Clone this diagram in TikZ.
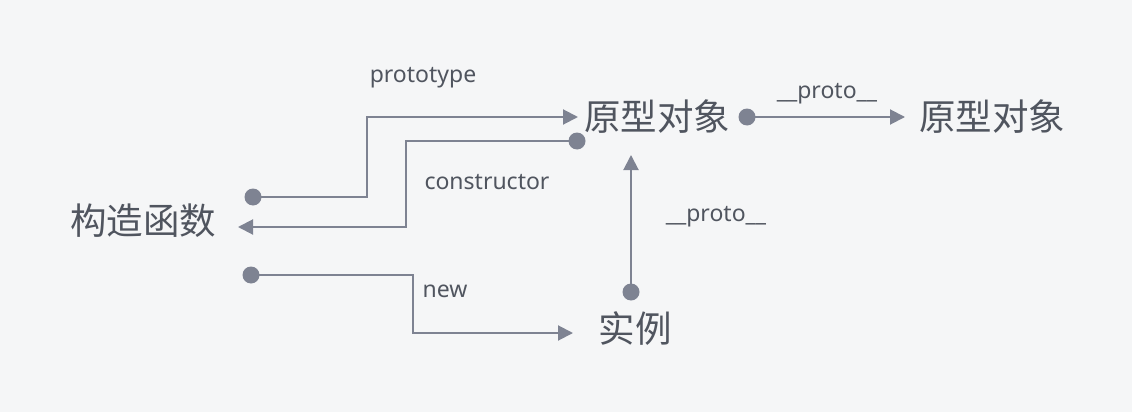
\documentclass[tikz,border=0pt]{standalone}
\usepackage{fontspec}
\newfontfamily\cjk{Noto Sans CJK SC}
\setmainfont{Noto Sans}
\usetikzlibrary{arrows.meta}
\definecolor{bg}{HTML}{F5F6F7}
\definecolor{ln}{HTML}{7E8392}
\definecolor{tx}{HTML}{50555F}
\tikzset{
  big/.style={text=tx, font=\cjk\fontsize{36.5}{40}\selectfont, inner sep=0pt},
  lbl/.style={text=tx, font=\fontsize{23}{26}\selectfont, inner sep=0pt},
  conn/.style={draw=ln, line width=2pt, -{Triangle[length=15pt,width=15pt]}},
  dotc/.style={fill=ln, draw=none},
}
\begin{document}
\begin{tikzpicture}[x=1pt,y=1pt]
\fill[bg] (0,0) rectangle (1132,-412);
\useasboundingbox (0,0) rectangle (1132,-412);

\node[big] (ctor) at (143,-221) {构造函数};
\node[big] (p1) at (657,-117) {原型对象};
\node[big] (p2) at (992,-117) {原型对象};
\node[big] (inst) at (635,-329) {实例};

\node[lbl] (lproto) at (423,-78) {prototype};
\node[lbl] (lctor) at (487,-182) {constructor};
\node[lbl] (lp2) at (827,-94) {\_\_proto\_\_};
\node[lbl] (lp1) at (716,-217) {\_\_proto\_\_};
\node[lbl] (lnew) at (445,-291) {new};

\coordinate (d1) at (253,-197);
\coordinate (t1) at (578,-117);
\coordinate (d2) at (577,-141);
\coordinate (t2) at (238,-227);
\coordinate (d3) at (251,-275);
\coordinate (t3) at (573,-333);
\coordinate (d4) at (631,-292);
\coordinate (t4) at (631,-155);
\coordinate (d5) at (747,-117);
\coordinate (t5) at (905,-117);

\draw[conn] (d1) -| (367,-157) |- (t1);
\draw[conn] (d2) -| (406,-180) |- (t2);
\draw[conn] (d3) -| (413,-300) |- (t3);
\draw[conn] (d4) -- (t4);
\draw[conn] (d5) -- (t5);

\foreach \d in {d1,d2,d3,d4,d5} \fill[dotc] (\d) circle (8.5pt);
\end{tikzpicture}
\end{document}
